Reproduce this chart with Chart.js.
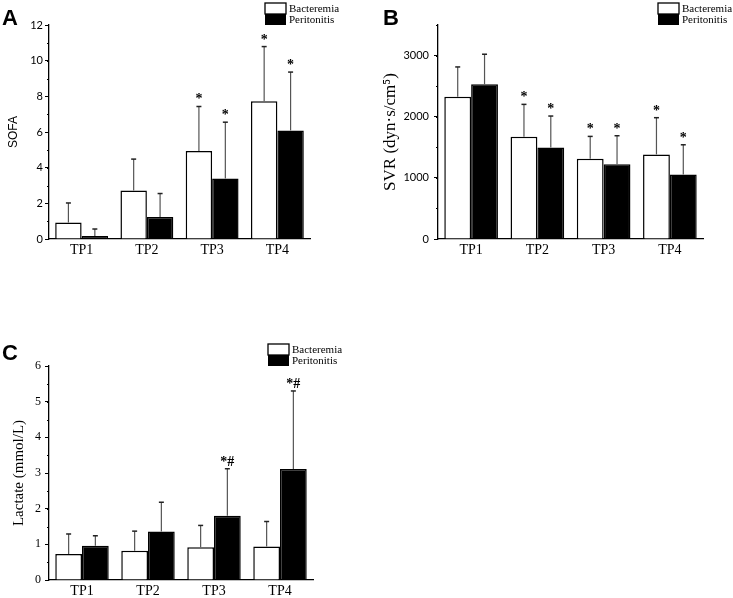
<!DOCTYPE html>
<html lang="en">

<head>
    <meta charset="UTF-8">
    <title>SOFA / SVR / Lactate</title>
    <script src="https://cdn.jsdelivr.net/npm/chart.js"></script>
    <style>
        body { margin: 0; background: #fff; }
        canvas { position: absolute; }
    </style>
</head>

<body>
    <canvas id="chartA" width="366" height="270" style="left:0;top:0"></canvas>
    <canvas id="chartB" width="363" height="270" style="left:370px;top:0"></canvas>
    <canvas id="chartC" width="366" height="320" style="left:0;top:300px"></canvas>

    <script>
        const categories = ['TP1', 'TP2', 'TP3', 'TP4'];
        const seriesNames = ['Bacteremia', 'Peritonitis'];

        // A: SOFA (mean, and top of the error bar)
        const sofaBact = [0.92, 2.72, 4.93, 7.72];
        const sofaBactTop = [2.02, 4.48, 7.43, 10.79];
        const sofaPerit = [0.17, 1.24, 3.39, 6.09];
        const sofaPeritTop = [0.56, 2.55, 6.55, 9.36];
        const sofaBactMarks = ['', '', '*', '*'];
        const sofaPeritMarks = ['', '', '*', '*'];
        const sofaTicks = [0, 2, 4, 6, 8, 10, 12];

        // B: SVR
        const svrBact = [2328, 1672, 1311, 1383];
        const svrBactTop = [2814, 2202, 1678, 1984];
        const svrPerit = [2530, 1497, 1224, 1055];
        const svrPeritTop = [3022, 2011, 1689, 1541];
        const svrBactMarks = ['', '*', '*', '*'];
        const svrPeritMarks = ['', '*', '*', '*'];
        const svrTicks = [0, 1000, 2000, 3000];

        // C: Lactate
        const lacBact = [0.73, 0.82, 0.92, 0.94];
        const lacBactTop = [1.29, 1.37, 1.53, 1.64];
        const lacPerit = [0.96, 1.36, 1.80, 3.11];
        const lacPeritTop = [1.24, 2.18, 3.12, 5.30];
        const lacBactMarks = ['', '', '', ''];
        const lacPeritMarks = ['', '', '*#', '*#'];
        const lacTicks = [0, 1, 2, 3, 4, 5, 6];

        const serif = '"Liberation Serif", "Times New Roman", serif';
        const sans = '"Liberation Sans", Arial, sans-serif';

        // error bars, stars, minor ticks, legend and panel letter
        const panelPlugin = {
            id: 'panel',
            afterDatasetsDraw(chart) {
                const c = chart.ctx;
                const y = chart.scales.y;
                chart.data.datasets.forEach((ds, di) => {
                    const meta = chart.getDatasetMeta(di);
                    meta.data.forEach((bar, i) => {
                        const top = y.getPixelForValue(ds.top[i]);
                        c.save();
                        c.strokeStyle = '#555';
                        c.lineWidth = 1.2;
                        c.beginPath();
                        c.moveTo(bar.x, bar.y);
                        c.lineTo(bar.x, top);
                        c.stroke();
                        c.strokeStyle = '#222';
                        c.lineWidth = 1.5;
                        c.beginPath();
                        c.moveTo(bar.x - 2.5, top);
                        c.lineTo(bar.x + 2.5, top);
                        c.stroke();
                        if (ds.marks[i]) {
                            c.fillStyle = '#000';
                            c.font = 'bold 14px ' + serif;
                            c.textAlign = 'center';
                            c.textBaseline = 'alphabetic';
                            c.fillText(ds.marks[i], bar.x, top - 3);
                        }
                        c.restore();
                    });
                });
            },
            afterDraw(chart) {
                const c = chart.ctx;
                const o = chart.options.plugins.panel;
                const y = chart.scales.y;
                const area = chart.chartArea;
                c.save();
                // minor ticks
                c.strokeStyle = '#000';
                c.lineWidth = 1;
                for (let v = 0; v <= y.max + 1e-9; v += o.minor) {
                    const py = Math.round(y.getPixelForValue(v)) + 0.5;
                    c.beginPath();
                    c.moveTo(area.left - 2, py);
                    c.lineTo(area.left, py);
                    c.stroke();
                }
                // legend
                const bx = area.right - 45;
                const by = area.top - 22;
                c.fillStyle = '#fff';
                c.fillRect(bx, by, 21, 11);
                c.strokeStyle = '#000';
                c.lineWidth = 1.3;
                c.strokeRect(bx, by, 21, 11);
                c.fillStyle = '#000';
                c.fillRect(bx, by + 11, 21, 11);
                c.font = '11px ' + serif;
                c.textAlign = 'left';
                c.textBaseline = 'middle';
                c.fillText(seriesNames[0], bx + 24, by + 6);
                c.fillText(seriesNames[1], bx + 24, by + 17);
                // panel letter
                c.font = 'bold 22px ' + sans;
                c.textBaseline = 'alphabetic';
                c.fillText(o.letter, o.letterX, o.letterY);
                c.restore();
            }
        };

        function makePanel(id, cfg) {
            new Chart(document.getElementById(id), {
                type: 'bar',
                data: {
                    labels: categories,
                    datasets: [{
                        label: seriesNames[0],
                        data: cfg.bact,
                        top: cfg.bactTop,
                        marks: cfg.bactMarks,
                        backgroundColor: '#fff',
                        borderColor: '#000',
                        borderWidth: 1.5
                    }, {
                        label: seriesNames[1],
                        data: cfg.perit,
                        top: cfg.peritTop,
                        marks: cfg.peritMarks,
                        backgroundColor: '#000',
                        borderColor: '#000',
                        borderWidth: 1.5
                    }]
                },
                options: {
                    responsive: false,
                    animation: false,
                    categoryPercentage: 0.81,
                    barPercentage: 1,
                    layout: { padding: cfg.padding },
                    plugins: {
                        legend: { display: false },
                        tooltip: { enabled: false },
                        panel: { letter: cfg.letter, letterX: cfg.letterX, letterY: cfg.letterY, minor: cfg.minor }
                    },
                    scales: {
                        x: {
                            grid: { display: false, drawTicks: false },
                            border: { color: '#000', width: 1.3 },
                            ticks: { color: '#000', font: { family: serif, size: 14 }, padding: 3 },
                            afterFit: s => { s.height = cfg.xHeight; }
                        },
                        y: {
                            min: 0,
                            max: cfg.max,
                            afterBuildTicks: s => { s.ticks = cfg.ticks.map(v => ({ value: v })); },
                            ticks: {
                                autoSkip: false,
                                color: '#000',
                                font: cfg.tickFont,
                                padding: cfg.tickPad,
                                callback: v => String(v)
                            },
                            grid: { drawOnChartArea: false, tickLength: 4, lineWidth: 1, color: '#000' },
                            border: { color: '#000', width: 1.3 },
                            title: { display: true, text: cfg.title, color: '#000', font: cfg.titleFont, padding: { top: cfg.titlePad, bottom: 0 } },
                            afterFit: s => { s.width = cfg.yWidth; }
                        }
                    }
                },
                plugins: [panelPlugin]
            });
        }

        makePanel('chartA', {
            bact: sofaBact, bactTop: sofaBactTop, bactMarks: sofaBactMarks,
            perit: sofaPerit, peritTop: sofaPeritTop, peritMarks: sofaPeritMarks,
            max: 12, ticks: sofaTicks, minor: 1, tickFont: { family: 'Lato', size: 11 }, tickPad: 2,
            title: 'SOFA', titleFont: { family: sans, size: 12 }, titlePad: 6,
            padding: { left: 0, right: 56, top: 25, bottom: 0 }, yWidth: 49, xHeight: 31,
            letter: 'A', letterX: 2, letterY: 25
        });

        makePanel('chartB', {
            bact: svrBact, bactTop: svrBactTop, bactMarks: svrBactMarks,
            perit: svrPerit, peritTop: svrPeritTop, peritMarks: svrPeritMarks,
            max: 3500, ticks: svrTicks, minor: 500, tickFont: { family: 'Lato', size: 11 }, tickPad: 5,
            title: 'SVR (dyn·s/cm⁵)', titleFont: { family: serif, size: 17 }, titlePad: 10,
            padding: { left: 0, right: 30, top: 25, bottom: 0 }, yWidth: 68, xHeight: 31,
            letter: 'B', letterX: 13, letterY: 25
        });

        makePanel('chartC', {
            bact: lacBact, bactTop: lacBactTop, bactMarks: lacBactMarks,
            perit: lacPerit, peritTop: lacPeritTop, peritMarks: lacPeritMarks,
            max: 6, ticks: lacTicks, minor: 0.5, tickFont: { family: serif, size: 12 }, tickPad: 4,
            title: 'Lactate (mmol/L)', titleFont: { family: serif, size: 15 }, titlePad: 10,
            padding: { left: 0, right: 53, top: 66, bottom: 0 }, yWidth: 49, xHeight: 40,
            letter: 'C', letterX: 2, letterY: 60
        });
    </script>
</body>

</html>
